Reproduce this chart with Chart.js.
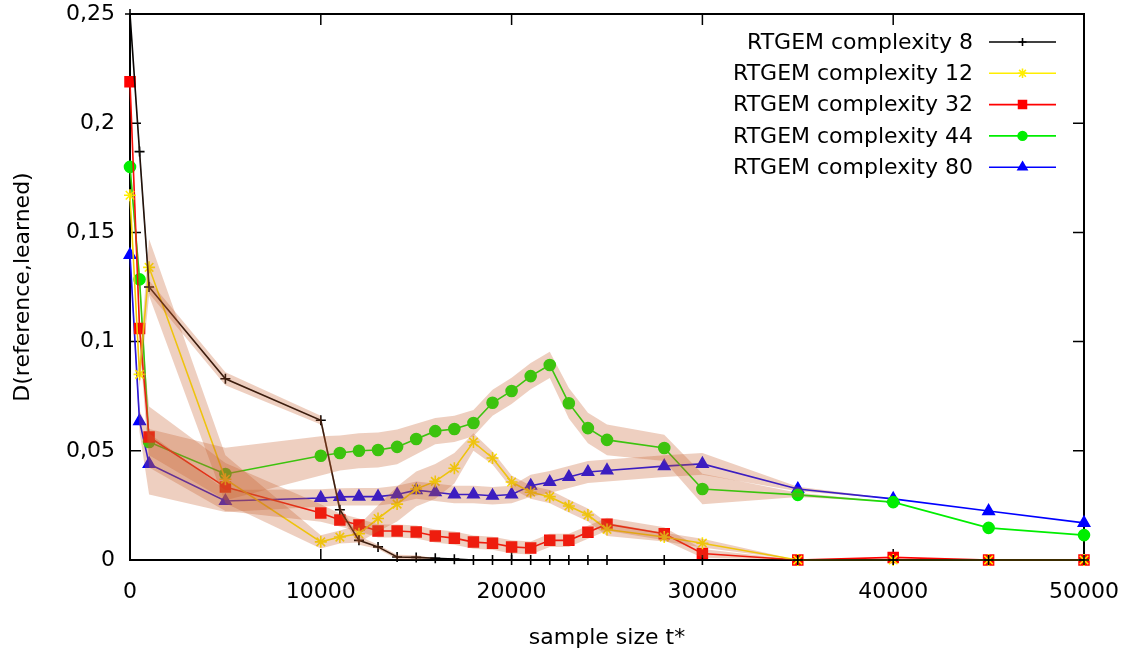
<!DOCTYPE html>
<html>
<head>
<meta charset="utf-8">
<script src="https://cdn.jsdelivr.net/npm/chart.js@4"></script>
<style>
  html, body { margin: 0; padding: 0; background: #fff; }
</style>
</head>
<body>
<canvas id="myChart" width="1127" height="656"></canvas>
<script>
// sample sizes (x axis)
const sampleSizes = [0, 500, 1000, 5000, 10000, 11000, 12000, 13000, 14000, 15000, 16000, 17000, 18000, 19000, 20000, 21000, 22000, 23000, 24000, 25000, 28000, 30000, 35000, 40000, 45000, 50000];

// mean distance per complexity
const c8  = [0.25, 0.187, 0.125, 0.083, 0.064, 0.023, 0.009, 0.006, 0.0014, 0.0012, 0.0008, 0.0004, 0, 0, 0, 0, 0, 0, 0, 0, 0, 0, 0, 0, 0, 0];
const c12 = [0.167, 0.085, 0.134, 0.037, 0.0083, 0.0105, 0.012, 0.019, 0.0256, 0.0325, 0.036, 0.042, 0.054, 0.0467, 0.0357, 0.031, 0.029, 0.0247, 0.0206, 0.014, 0.0105, 0.0077, 0, 0, 0, 0];
const c32 = [0.219, 0.106, 0.0563, 0.0334, 0.0215, 0.0183, 0.016, 0.0133, 0.0133, 0.0128, 0.011, 0.010, 0.0082, 0.0077, 0.006, 0.0055, 0.009, 0.009, 0.0127, 0.0164, 0.012, 0.003, 0, 0.0012, 0, 0];
const c44 = [0.18, 0.1285, 0.054, 0.0394, 0.0477, 0.049, 0.050, 0.0504, 0.0518, 0.0554, 0.059, 0.060, 0.0627, 0.072, 0.0774, 0.0842, 0.0893, 0.0718, 0.0604, 0.055, 0.0513, 0.0325, 0.0298, 0.0265, 0.0147, 0.0114];
const c80 = [0.1397, 0.0636, 0.044, 0.027, 0.0284, 0.0289, 0.029, 0.029, 0.030, 0.032, 0.031, 0.030, 0.030, 0.0294, 0.030, 0.034, 0.0357, 0.038, 0.0403, 0.041, 0.043, 0.044, 0.0325, 0.028, 0.0224, 0.017];

// spread (half width of the shaded band)
const sd8  = [0, 0.002, 0.003, 0.003, 0.002, 0.002, 0.002, 0.001, 0.001, 0.001, 0, 0, 0, 0, 0, 0, 0, 0, 0, 0, 0, 0, 0, 0, 0, 0];
const sd12 = [0.003, 0.006, 0.013, 0.011, 0.003, 0.003, 0.004, 0.006, 0.008, 0.008, 0.008, 0.007, 0.004, 0.003, 0.003, 0.003, 0.003, 0.003, 0.003, 0.003, 0.002, 0.002, 0, 0, 0, 0];
const sd32 = [0.003, 0.005, 0.014, 0.011, 0.004, 0.003, 0.003, 0.003, 0.003, 0.003, 0.003, 0.003, 0.003, 0.003, 0.003, 0.003, 0.003, 0.003, 0.003, 0.003, 0.003, 0.002, 0, 0, 0, 0];
const sd44 = [0.003, 0.005, 0.006, 0.012, 0.009, 0.008, 0.008, 0.008, 0.008, 0.007, 0.006, 0.006, 0.006, 0.006, 0.006, 0.006, 0.006, 0.007, 0.007, 0.007, 0.006, 0.007, 0.001, 0, 0, 0];
const sd80 = [0.002, 0.005, 0.014, 0.005, 0.004, 0.004, 0.004, 0.004, 0.004, 0.004, 0.004, 0.004, 0.004, 0.004, 0.004, 0.005, 0.005, 0.005, 0.005, 0.005, 0.005, 0.005, 0.001, 0, 0, 0];

const seriesNames = ["RTGEM complexity 8", "RTGEM complexity 12", "RTGEM complexity 32", "RTGEM complexity 44", "RTGEM complexity 80"];
const xTickLabels = ["0", "10000", "20000", "30000", "40000", "50000"];
const yTickLabels = ["0", "0,05", "0,1", "0,15", "0,2", "0,25"];

const seriesValues = [c8, c12, c32, c44, c80];
const seriesSpread = [sd8, sd12, sd32, sd44, sd80];
const seriesColors = ["#000000", "#ffee00", "#ff0000", "#00ee00", "#0000ff"];
const seriesPoints = [
  { style: "cross", radius: 5 },
  { style: "star", radius: 6 },
  { style: "rect", radius: 7 },
  { style: "circle", radius: 5.5 },
  { style: "triangle", radius: 6.5 }
];
const bandColor = "rgba(198, 95, 45, 0.3)";
const FONT = "'DejaVu Sans', Verdana, sans-serif";

function pts(ys) {
  return sampleSizes.map((x, i) => ({ x: x, y: ys[i] }));
}

const datasets = [];
seriesValues.forEach((vals, s) => {
  datasets.push({
    label: seriesNames[s],
    data: pts(vals),
    borderColor: seriesColors[s],
    backgroundColor: seriesColors[s],
    pointBorderColor: seriesColors[s],
    pointBackgroundColor: seriesColors[s],
    borderWidth: 1.6,
    pointStyle: seriesPoints[s].style,
    pointRadius: seriesPoints[s].radius,
    pointBorderWidth: 1.6,
    fill: false,
    clip: false,
    order: 2
  });
});
// shaded bands, drawn on top of the lines
seriesValues.forEach((vals, s) => {
  const sd = seriesSpread[s];
  const upIndex = datasets.length;
  datasets.push({
    label: "band-up",
    data: pts(vals.map((v, i) => v + sd[i])),
    borderWidth: 0,
    pointRadius: 0,
    backgroundColor: bandColor,
    fill: upIndex + 1,
    order: 1
  });
  datasets.push({
    label: "band-low",
    data: pts(vals.map((v, i) => v - sd[i])),
    borderWidth: 0,
    pointRadius: 0,
    fill: false,
    order: 1
  });
});

// border box with inward ticks, gnuplot style
const framePlugin = {
  id: "frame",
  beforeDatasetsDraw(chart) {
    const ctx = chart.ctx;
    const a = chart.chartArea;
    const xs = chart.scales.x, ys = chart.scales.y;
    const tl = 11;
    ctx.save();
    ctx.strokeStyle = "#000";
    ctx.lineWidth = 1.5;
    ctx.beginPath();
    xs.ticks.forEach(t => {
      const px = xs.getPixelForValue(t.value);
      ctx.moveTo(px, a.bottom); ctx.lineTo(px, a.bottom - tl);
      ctx.moveTo(px, a.top); ctx.lineTo(px, a.top + tl);
    });
    ys.ticks.forEach(t => {
      const py = ys.getPixelForValue(t.value);
      ctx.moveTo(a.left, py); ctx.lineTo(a.left + tl, py);
      ctx.moveTo(a.right, py); ctx.lineTo(a.right - tl, py);
    });
    ctx.stroke();
    ctx.lineWidth = 2;
    ctx.strokeRect(a.left, a.top, a.right - a.left, a.bottom - a.top);
    ctx.restore();
  }
};

// legend on the right: text, then sample line with marker
const legendPlugin = {
  id: "rightLegend",
  afterDraw(chart) {
    const ctx = chart.ctx;
    const textRight = 973, lineStart = 989, lineEnd = 1056;
    ctx.save();
    ctx.font = "22px " + FONT;
    ctx.textAlign = "right";
    ctx.textBaseline = "middle";
    seriesNames.forEach((name, s) => {
      const y = 42 + s * 31.3;
      ctx.fillStyle = "#000";
      ctx.fillText(name, textRight, y + 1);
      ctx.strokeStyle = seriesColors[s];
      ctx.lineWidth = 1.6;
      ctx.beginPath();
      ctx.moveTo(lineStart, y); ctx.lineTo(lineEnd, y);
      ctx.stroke();
      ctx.fillStyle = seriesColors[s];
      Chart.helpers.drawPoint(ctx, {
        pointStyle: seriesPoints[s].style,
        radius: seriesPoints[s].radius * 0.8,
        rotation: 0,
        borderWidth: 1.6
      }, (lineStart + lineEnd) / 2, y);
    });
    ctx.restore();
  }
};

new Chart("myChart", {
  type: "line",
  data: { datasets: datasets },
  plugins: [framePlugin, legendPlugin],
  options: {
    responsive: false,
    animation: false,
    devicePixelRatio: 1,
    layout: { padding: { top: 14, right: 43, left: 0, bottom: 0 } },
    plugins: {
      legend: { display: false },
      tooltip: { enabled: false },
      filler: { drawTime: "beforeDatasetDraw" }
    },
    scales: {
      x: {
        type: "linear",
        min: 0,
        max: 50000,
        grid: { display: false, drawTicks: false },
        border: { display: false },
        ticks: {
          stepSize: 10000,
          padding: 19,
          maxRotation: 0,
          color: "#000",
          font: { family: FONT, size: 22 },
          callback: (v, i) => xTickLabels[i]
        },
        title: {
          display: true,
          text: "sample size t*",
          color: "#000",
          font: { family: FONT, size: 22 },
          padding: { top: 0, bottom: 5 }
        },
        afterFit: s => {
          s.height = 96;
          s.paddingLeft = 0; s.paddingRight = 0;
        }
      },
      y: {
        min: 0,
        max: 0.25,
        grid: { display: false, drawTicks: false },
        border: { display: false },
        ticks: {
          stepSize: 0.05,
          padding: 15,
          color: "#000",
          font: { family: FONT, size: 22 },
          callback: (v, i) => yTickLabels[i]
        },
        title: {
          display: true,
          text: "D(reference,learned)",
          color: "#000",
          font: { family: FONT, size: 22 },
          padding: { top: 10, bottom: 0 }
        },
        afterFit: s => {
          s.width = 130;
          s.paddingTop = 0; s.paddingBottom = 0;
        }
      }
    }
  }
});
</script>
</body>
</html>
